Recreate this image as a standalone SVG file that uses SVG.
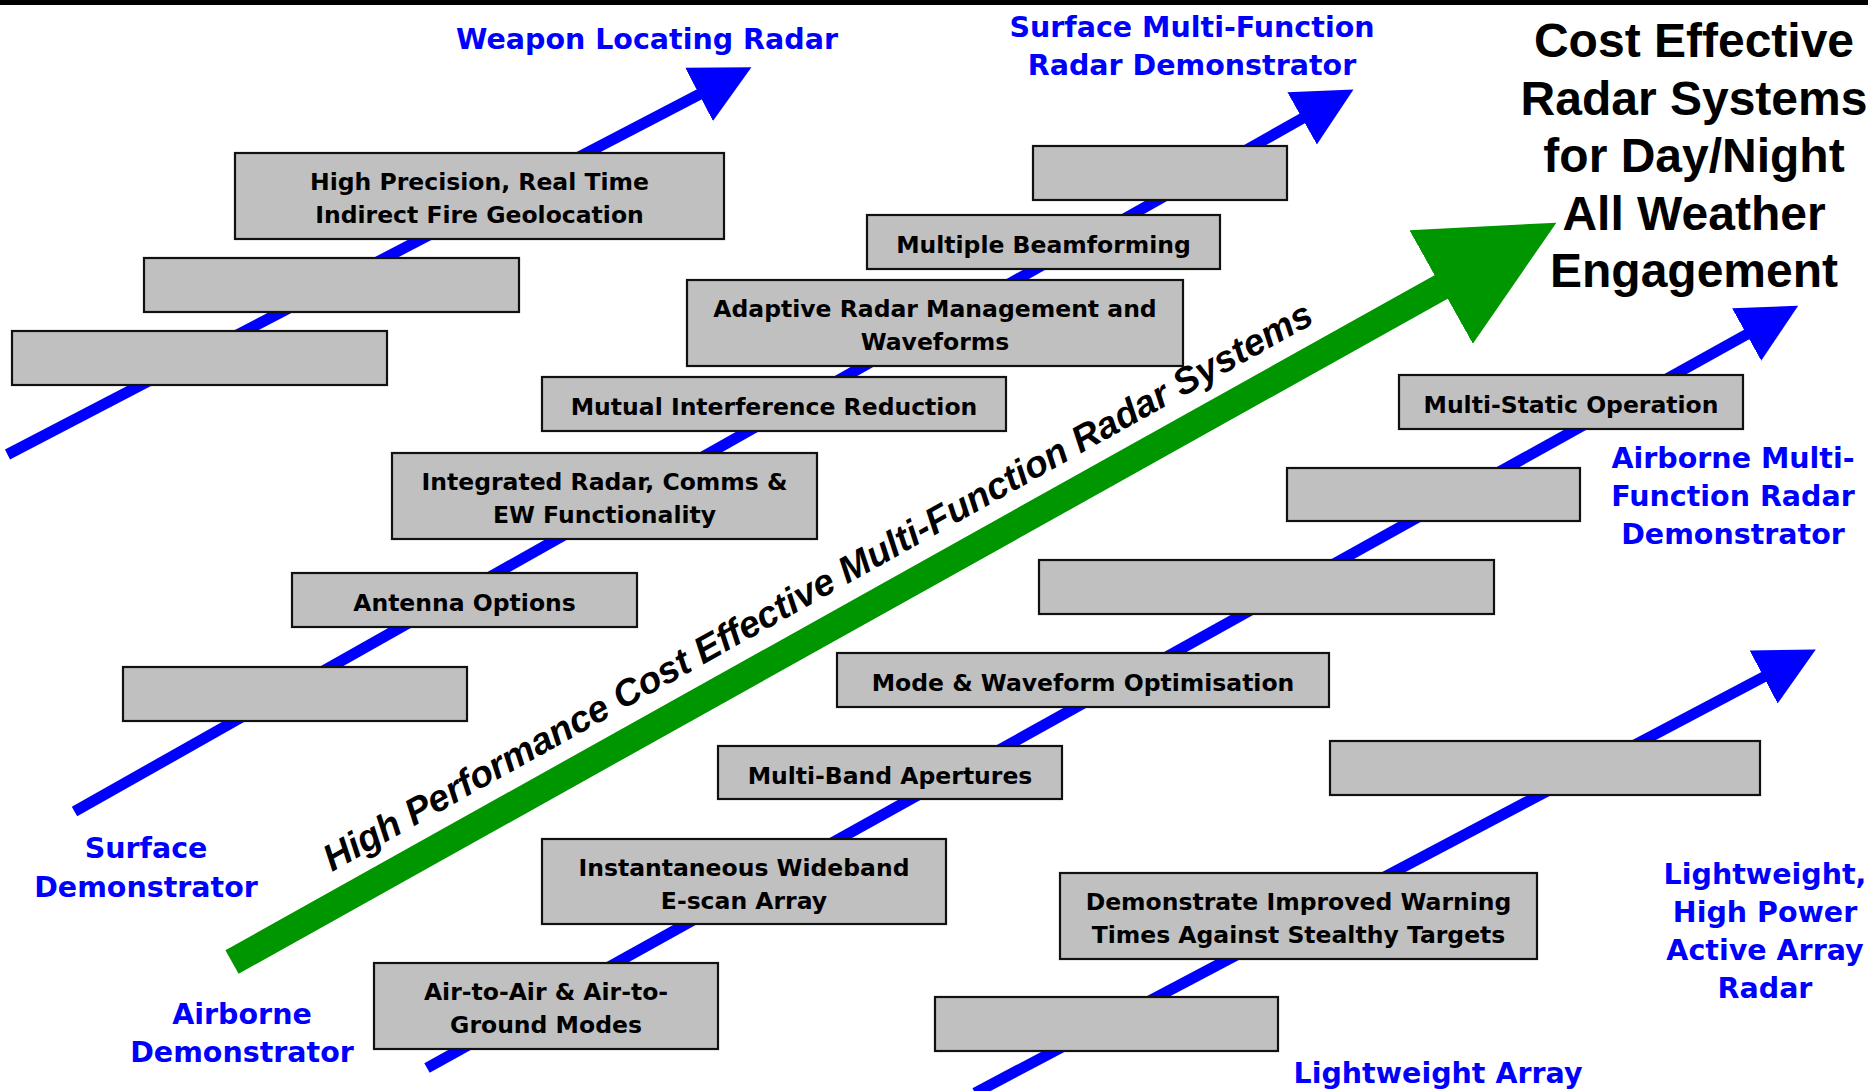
<svg xmlns="http://www.w3.org/2000/svg" width="1868" height="1091" viewBox="0 0 1868 1091">
<defs>
<style>
.box rect{fill:#C0C0C0;stroke:#111;stroke-width:2.2}
.bt{font-family:"DejaVu Sans",Verdana,sans-serif;font-weight:bold;font-size:23.5px;fill:#000;text-anchor:middle}
.lbl{font-family:"DejaVu Sans",Verdana,sans-serif;font-weight:bold;font-size:28.5px;fill:#0000FF;text-anchor:middle}
.title{font-family:"Liberation Sans",Arial,sans-serif;font-weight:bold;font-size:48px;fill:#000;text-anchor:middle}
.path{font-family:"Liberation Sans",Arial,sans-serif;font-weight:bold;font-style:italic;font-size:37.3px;fill:#000}
.blue{stroke:#0000FF;stroke-width:11;fill:none;marker-end:url(#bh)}
.green{stroke:#009600;stroke-width:27;fill:none;marker-end:url(#gh)}
</style>
<marker id="bh" markerUnits="userSpaceOnUse" viewBox="0 -31 61 62" markerWidth="61" markerHeight="62" refX="1" refY="0" orient="auto">
<path d="M0,-30 L59,0 L0,30 Z" fill="#0000FF"/>
</marker>
<marker id="gh" markerUnits="userSpaceOnUse" viewBox="0 -66 134 132" markerWidth="134" markerHeight="132" refX="1" refY="0" orient="auto">
<path d="M0,-65 L132,0 L0,65 Z" fill="#009600"/>
</marker>
</defs>
<rect x="0" y="0" width="1868" height="1091" fill="#fff"/>
<rect x="0" y="0" width="1868" height="5" fill="#000"/>
<g id="connectors">
<line class="blue" x1="7.5" y1="454.5" x2="700" y2="94"/>
<line class="blue" x1="74.5" y1="811.5" x2="1303" y2="118"/>
<line class="blue" x1="427" y1="1068" x2="1747.5" y2="334"/>
<line class="blue" x1="975" y1="1093" x2="1764.5" y2="676.5"/>
<line class="green" x1="232" y1="962" x2="1442" y2="286.5"/>
</g>
<text class="path" transform="translate(332,872) rotate(-29.2)">High Performance Cost Effective Multi-Function Radar Systems</text>
<g id="n-hp" class="box"><rect x="235" y="153" width="489" height="86"/><text class="bt" x="479.5" y="190">High Precision, Real Time</text><text class="bt" x="479.5" y="223">Indirect Fire Geolocation</text></g>
<g id="n-e1" class="box"><rect x="144" y="258" width="375" height="54"/></g>
<g id="n-e2" class="box"><rect x="12" y="331" width="375" height="54"/></g>
<g id="n-e3" class="box"><rect x="1033" y="146" width="254" height="54"/></g>
<g id="n-mb" class="box"><rect x="867" y="215" width="353" height="54"/><text class="bt" x="1043.5" y="252.5">Multiple Beamforming</text></g>
<g id="n-arm" class="box"><rect x="687" y="280" width="496" height="86"/><text class="bt" x="935" y="317">Adaptive Radar Management and</text><text class="bt" x="935" y="350">Waveforms</text></g>
<g id="n-mir" class="box"><rect x="542" y="377" width="464" height="54"/><text class="bt" x="774" y="414.5">Mutual Interference Reduction</text></g>
<g id="n-irc" class="box"><rect x="392" y="453" width="425" height="86"/><text class="bt" x="604.5" y="490">Integrated Radar, Comms &amp;</text><text class="bt" x="604.5" y="523">EW Functionality</text></g>
<g id="n-ao" class="box"><rect x="292" y="573" width="345" height="54"/><text class="bt" x="464.5" y="610.5">Antenna Options</text></g>
<g id="n-e4" class="box"><rect x="123" y="667" width="344" height="54"/></g>
<g id="n-mso" class="box"><rect x="1399" y="375" width="344" height="54"/><text class="bt" x="1571" y="412.5">Multi-Static Operation</text></g>
<g id="n-e5" class="box"><rect x="1287" y="468" width="293" height="53"/></g>
<g id="n-e6" class="box"><rect x="1039" y="560" width="455" height="54"/></g>
<g id="n-mwo" class="box"><rect x="837" y="653" width="492" height="54"/><text class="bt" x="1083" y="690.5">Mode &amp; Waveform Optimisation</text></g>
<g id="n-mba" class="box"><rect x="718" y="746" width="344" height="53"/><text class="bt" x="890" y="783.5">Multi-Band Apertures</text></g>
<g id="n-iwe" class="box"><rect x="542" y="839" width="404" height="85"/><text class="bt" x="744" y="876">Instantaneous Wideband</text><text class="bt" x="744" y="909">E-scan Array</text></g>
<g id="n-aaa" class="box"><rect x="374" y="963" width="344" height="86"/><text class="bt" x="546" y="1000">Air-to-Air &amp; Air-to-</text><text class="bt" x="546" y="1033">Ground Modes</text></g>
<g id="n-e7" class="box"><rect x="1330" y="741" width="430" height="54"/></g>
<g id="n-diw" class="box"><rect x="1060" y="873" width="477" height="86"/><text class="bt" x="1298.5" y="910">Demonstrate Improved Warning</text><text class="bt" x="1298.5" y="943">Times Against Stealthy Targets</text></g>
<g id="n-e8" class="box"><rect x="935" y="997" width="343" height="54"/></g>
<g id="l-wlr"><text class="lbl" x="647" y="49">Weapon Locating Radar</text></g>
<g id="l-smf"><text class="lbl" x="1192" y="37">Surface Multi-Function</text><text class="lbl" x="1192" y="75">Radar Demonstrator</text></g>
<g id="l-amf"><text class="lbl" x="1733" y="468">Airborne Multi-</text><text class="lbl" x="1733" y="506">Function Radar</text><text class="lbl" x="1733" y="544">Demonstrator</text></g>
<g id="l-lhp"><text class="lbl" x="1765" y="884">Lightweight,</text><text class="lbl" x="1765" y="922">High Power</text><text class="lbl" x="1765" y="960">Active Array</text><text class="lbl" x="1765" y="998">Radar</text></g>
<g id="l-la"><text class="lbl" x="1438" y="1083">Lightweight Array</text></g>
<g id="l-sd"><text class="lbl" x="146" y="858">Surface</text><text class="lbl" x="146" y="897">Demonstrator</text></g>
<g id="l-ad"><text class="lbl" x="242" y="1024">Airborne</text><text class="lbl" x="242" y="1062">Demonstrator</text></g>
<g id="title"><text class="title" x="1694" y="57">Cost Effective</text><text class="title" x="1694" y="115">Radar Systems</text><text class="title" x="1694" y="172">for Day/Night</text><text class="title" x="1694" y="230">All Weather</text><text class="title" x="1694" y="287">Engagement</text></g>
</svg>
